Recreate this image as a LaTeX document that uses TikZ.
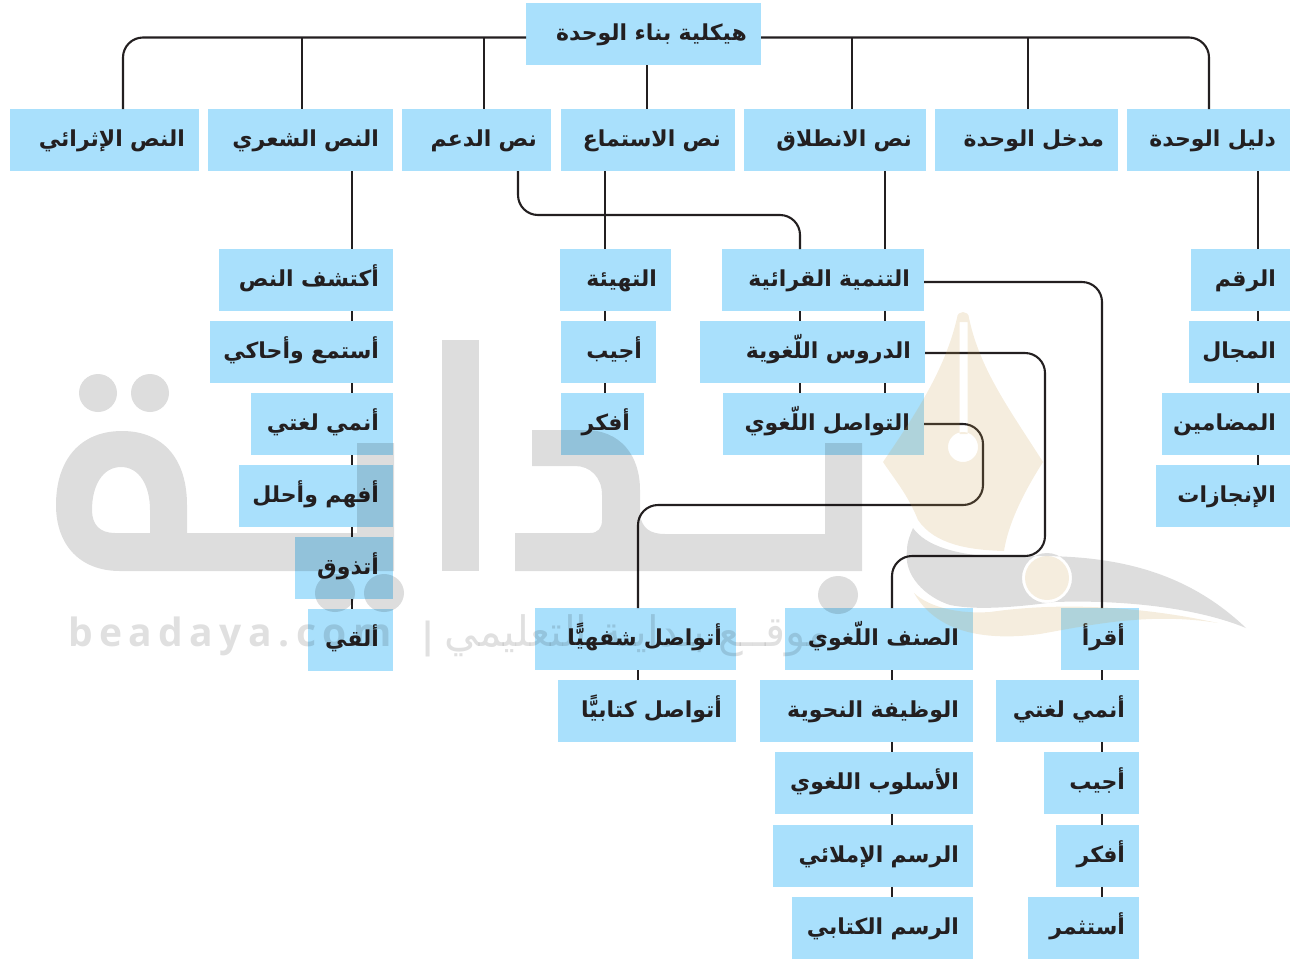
\documentclass[tikz,border=0pt]{standalone}
\usepackage{fontspec}
\TeXXeTstate=1
\newfontfamily\arfont[Script=Arabic]{DejaVu Sans}
\newfontfamily\wmlatin[LetterSpace=16.5]{Open Sans}
\definecolor{boxblue}{HTML}{A9E0FC}
\definecolor{inkline}{HTML}{231F20}
\definecolor{nibgold}{HTML}{CAA051}
\tikzset{
  bxnode/.style={fill=boxblue,draw=none,inner xsep=14pt,inner ysep=0pt,outer sep=0pt,
    align=right,text=inkline,text height=24pt,text depth=11pt,
    font=\arfont\bfseries\fontsize{22}{25}\selectfont},
  conn/.style={draw=inkline,line width=2.1pt,line cap=butt},
  bendline/.style={conn,rounded corners=20pt},
  wmgray/.style={fill=black,draw=none,opacity=.135},
  wmgold/.style={fill=nibgold,draw=none,opacity=.19},
  wmtext/.style={text=black,text opacity=.12,inner sep=0pt}
}
\newcommand\bx[6]{\node[bxnode,text width={(#4-#2-28)*1pt},minimum height={(#5-#3)*1pt}] (#1) at ({(#2+#4)/2},{(#3+#5)/2}) {\hbox to\hsize{\hss #6}};}
\newcommand\vlink[3]{\draw[conn] (#1.south -| #3,0) -- (#2.north -| #3,0);}
\begin{document}
\begin{tikzpicture}[x=1pt,y=-1pt]
\useasboundingbox (0,0) rectangle (1290,959);
\bx{root}{526}{3}{761}{65}{\beginR هيكلية بناء الوحدة\endR}
\bx{ithra}{10}{109}{199}{171}{\beginR النص الإثرائي\endR}
\bx{shir}{208}{109}{393}{171}{\beginR النص الشعري\endR}
\bx{daam}{402}{109}{551}{171}{\beginR نص الدعم\endR}
\bx{istima}{561}{109}{735}{171}{\beginR نص الاستماع\endR}
\bx{intilaq}{744}{109}{926}{171}{\beginR نص الانطلاق\endR}
\bx{madkhal}{935}{109}{1118}{171}{\beginR مدخل الوحدة\endR}
\bx{dalil}{1127}{109}{1290}{171}{\beginR دليل الوحدة\endR}
\bx{aktashif}{219}{249}{393}{311}{\beginR أكتشف النص\endR}
\bx{astamia}{210}{321}{393}{383}{\beginR أستمع وأحاكي\endR}
\bx{unmiA}{251}{393}{393}{455}{\beginR أنمي لغتي\endR}
\bx{afham}{239}{465}{393}{527}{\beginR أفهم وأحلل\endR}
\bx{atadhawwaq}{295}{537}{393}{599}{\beginR أتذوق\endR}
\bx{ulqi}{308}{609}{393}{671}{\beginR ألقي\endR}
\bx{tahyia}{560}{249}{671}{311}{\beginR التهيئة\endR}
\bx{ujibA}{561}{321}{656}{383}{\beginR أجيب\endR}
\bx{ufakkirA}{561}{393}{644}{455}{\beginR أفكر\endR}
\bx{tanmiya}{722}{249}{924}{311}{\beginR التنمية القرائية\endR}
\bx{duruus}{700}{321}{925}{383}{\beginR الدروس اللّغوية\endR}
\bx{tawasul}{723}{393}{924}{455}{\beginR التواصل اللّغوي\endR}
\bx{raqm}{1191}{249}{1290}{311}{\beginR الرقم\endR}
\bx{majal}{1189}{321}{1290}{383}{\beginR المجال\endR}
\bx{madamin}{1162}{393}{1290}{455}{\beginR المضامين\endR}
\bx{injazat}{1156}{465}{1290}{527}{\beginR الإنجازات\endR}
\bx{shafahi}{535}{608}{736}{670}{\beginR أتواصل شفهيًّا\endR}
\bx{kitabi}{558}{680}{736}{742}{\beginR أتواصل كتابيًّا\endR}
\bx{sinf}{785}{608}{973}{670}{\beginR الصنف اللّغوي\endR}
\bx{wazifa}{760}{680}{973}{742}{\beginR الوظيفة النحوية\endR}
\bx{uslub}{775}{752}{973}{814}{\beginR الأسلوب اللغوي\endR}
\bx{imlai}{773}{825}{973}{887}{\beginR الرسم الإملائي\endR}
\bx{kitabiRasm}{792}{897}{973}{959}{\beginR الرسم الكتابي\endR}
\bx{aqra}{1061}{608}{1139}{670}{\beginR أقرأ\endR}
\bx{unmiB}{996}{680}{1139}{742}{\beginR أنمي لغتي\endR}
\bx{ujibB}{1044}{752}{1139}{814}{\beginR أجيب\endR}
\bx{ufakkirB}{1056}{825}{1139}{887}{\beginR أفكر\endR}
\bx{astathmir}{1028}{897}{1139}{959}{\beginR أستثمر\endR}
% bus
\coordinate (bus) at (0,37.5);
\draw[bendline] (root.west |- bus) -- (123,37.5) -- (ithra.north -| 123,0);
\draw[bendline] (root.east |- bus) -- (1209,37.5) -- (dalil.north -| 1209,0);
\foreach \kid/\xx in {shir/302,daam/484,intilaq/852,madkhal/1028}
  \draw[conn] (\xx,37.5) -- (\kid.north -| \xx,0);
\vlink{root}{istima}{647}
% chains
\vlink{shir}{aktashif}{352}\vlink{aktashif}{astamia}{352}\vlink{astamia}{unmiA}{352}
\vlink{unmiA}{afham}{352}\vlink{afham}{atadhawwaq}{352}\vlink{atadhawwaq}{ulqi}{352}
\vlink{istima}{tahyia}{605}\vlink{tahyia}{ujibA}{605}\vlink{ujibA}{ufakkirA}{605}
\vlink{intilaq}{tanmiya}{885}\vlink{tanmiya}{duruus}{885}\vlink{duruus}{tawasul}{885}
\vlink{tanmiya}{duruus}{800}\vlink{duruus}{tawasul}{800}
\vlink{dalil}{raqm}{1258}\vlink{raqm}{majal}{1258}\vlink{majal}{madamin}{1258}\vlink{madamin}{injazat}{1258}
\vlink{shafahi}{kitabi}{638}
\vlink{sinf}{wazifa}{892}\vlink{wazifa}{uslub}{892}\vlink{uslub}{imlai}{892}\vlink{imlai}{kitabiRasm}{892}
\vlink{aqra}{unmiB}{1102}\vlink{unmiB}{ujibB}{1102}\vlink{ujibB}{ufakkirB}{1102}\vlink{ufakkirB}{astathmir}{1102}
% bends
\draw[bendline] (daam.south -| 518,0) -- (518,215) -- (800,215) -- (tanmiya.north -| 800,0);
\draw[bendline] ([yshift=-2pt]tanmiya.east) -- (1102,282) -- (aqra.north -| 1102,0);
\draw[bendline] ([yshift=-1pt]duruus.east) -- (1045,353) -- (1045,556) -- (892,556) -- (sinf.north -| 892,0);
\draw[bendline] (tawasul.east) -- (983,424) -- (983,505) -- (638,505) -- (shafahi.north -| 638,0);
% watermark: big word
\fill[wmgray,even odd rule]
  (56,505) .. controls (56,460) and (80,431) .. (122,431) .. controls (164,431) and (187,460) .. (187,505) -- (187,533)
  -- (357,533) -- (357,443) -- (394,443) -- (394,571) -- (120,571) .. controls (80,571) and (56,545) .. (56,505) -- cycle
  (92,510) .. controls (92,485) and (103,467) .. (121,467) .. controls (139,467) and (150,485) .. (150,510) -- (150,533) -- (115,533) .. controls (100,533) and (92,525) .. (92,510) -- cycle;
\fill[wmgray] (98,393) ellipse [x radius=19,y radius=19];
\fill[wmgray] (150,393) ellipse [x radius=19,y radius=19];
\fill[wmgray] (335,593) ellipse [x radius=20,y radius=19];
\fill[wmgray] (384,593) ellipse [x radius=20,y radius=19];
\fill[wmgray] (442,340) rectangle (479,571);
\fill[wmgray]
  (532,430) -- (585,430) .. controls (620,430) and (640,455) .. (640,490) -- (640,515)
  .. controls (642,528) and (650,534) .. (665,534) -- (825,534) -- (825,443) -- (862,443) -- (862,571)
  -- (515,571) -- (515,533) -- (590,533) .. controls (598,533) and (602,528) .. (602,520) -- (602,495)
  .. controls (602,477) and (590,466) .. (575,466) -- (532,466) -- cycle;
\fill[wmgray] (838,595) ellipse [x radius=20,y radius=19];
% watermark: pen nib
\fill[wmgold,even odd rule]
  (957,318) .. controls (957,310) and (969,310) .. (969,318) .. controls (980,370) and (1010,410) .. (1043,462)
  .. controls (1022,495) and (1008,525) .. (1004,551)
  .. controls (970,550) and (935,545) .. (918,520) .. controls (908,495) and (895,480) .. (883,462)
  .. controls (915,415) and (945,370) .. (957,318) -- cycle
  (959.5,322) -- (967.5,322) -- (967.5,434) -- (959.5,434) -- cycle
  (963,447) circle [radius=15];
% watermark: swoosh
\fill[wmgray,even odd rule]
  (913,528) .. controls (925,545) and (955,556) .. (1005,557)
  .. controls (1100,552) and (1180,565) .. (1246,628)
  .. controls (1190,605) and (1110,600) .. (1055,602)
  .. controls (1010,608) and (975,610) .. (950,605)
  .. controls (925,597) and (903,575) .. (907,550) .. controls (907,542) and (910,535) .. (913,528) -- cycle
  (1047,578) circle [radius=25];
\fill[wmgold] (1047,578) circle [radius=22];
\fill[wmgold]
  (914,593) .. controls (930,608) and (960,614) .. (990,612)
  .. controls (1060,602) and (1140,606) .. (1218,623)
  .. controls (1150,612) and (1090,625) .. (1040,634)
  .. controls (980,642) and (935,630) .. (914,593) -- cycle;
% watermark: small line
\node[wmtext,anchor=base west,font=\wmlatin\bfseries\fontsize{39}{42}\selectfont] (wmsite) at (68,646) {beadaya.com};
\node[wmtext,anchor=base,font=\arfont\bfseries\fontsize{36}{40}\selectfont] (wmbar) at (428,648) {|};
\node[wmtext,anchor=base east,font=\arfont\fontsize{42}{46}\selectfont] (wmname) at (830,646) {\beginR موقــع بـدايـة التعليمي\endR};
\end{tikzpicture}
\end{document}
